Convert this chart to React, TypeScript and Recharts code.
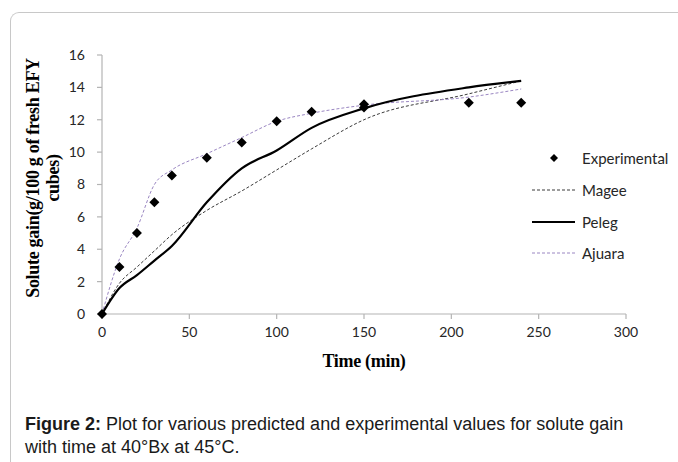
import React from 'react';
import { ComposedChart, Line, Scatter, XAxis, YAxis } from 'recharts';

// Time points (min) at which the models were evaluated
const modelTimes = [0, 10, 20, 30, 40, 60, 80, 100, 120, 150, 210, 240];
const mageeValues = [0, 1.9, 2.9, 3.9, 4.9, 6.4, 7.6, 8.9, 10.2, 12.0, 13.6, 14.4];
const pelegValues = [0, 1.6, 2.4, 3.3, 4.2, 6.9, 9.0, 10.1, 11.5, 12.7, 14.0, 14.4];
const ajuaraValues = [0, 3.4, 5.3, 8.0, 8.9, 9.9, 10.9, 11.9, 12.4, 12.9, 13.4, 13.9];

// Experimental observations
const expTimes = [0, 10, 20, 30, 40, 60, 80, 100, 120, 150, 150, 210, 240];
const expValues = [0, 2.9, 5.0, 6.9, 8.55, 9.65, 10.6, 11.9, 12.5, 12.95, 12.75, 13.05, 13.05];

const xTicks = [0, 50, 100, 150, 200, 250, 300];
const yTicks = [0, 2, 4, 6, 8, 10, 12, 14, 16];

const modelRows = modelTimes.map((t, i) => ({
  t,
  magee: mageeValues[i],
  peleg: pelegValues[i],
  ajuara: ajuaraValues[i],
}));
const expRows = expTimes.map((t, i) => ({ t, exp: expValues[i] }));

const AXIS_COLOR = '#b4b4b4';
const TICK_FONT = 'Lato, "Open Sans", sans-serif';
const MAGEE_COLOR = '#3a3a3a';
const PELEG_COLOR = '#000000';
const AJUARA_COLOR = '#9a86c2';

const Diamond = (props: any) => {
  const { cx, cy } = props;
  if (cx == null || cy == null) return null;
  const r = 5;
  return (
    <path d={`M${cx},${cy - r}L${cx + r},${cy}L${cx},${cy + r}L${cx - r},${cy}Z`} fill="#000" />
  );
};

const legendItems = [
  { name: 'Experimental', kind: 'diamond' },
  { name: 'Magee', kind: 'line', color: MAGEE_COLOR, dash: '3 2', w: 1 },
  { name: 'Peleg', kind: 'line', color: PELEG_COLOR, dash: undefined, w: 2.2 },
  { name: 'Ajuara', kind: 'line', color: AJUARA_COLOR, dash: '3 2', w: 1 },
];

export default function App() {
  return (
    <div
      style={{
        position: 'absolute',
        left: 0,
        top: 0,
        width: 678,
        height: 462,
        background: '#fff',
        overflow: 'hidden',
      }}
    >
      <div
        style={{
          position: 'absolute',
          left: 10,
          top: 12,
          width: 700,
          height: 480,
          borderTop: '1.5px solid #c8c8c8',
          borderLeft: '1.5px solid #c8c8c8',
          borderTopLeftRadius: 9,
          boxSizing: 'border-box',
        }}
      />
      <div style={{ position: 'absolute', left: 0, top: 0 }}>
        <ComposedChart
          width={678}
          height={462}
          data={modelRows}
          margin={{ top: 55, right: 52, bottom: 118, left: 62 }}
        >
          <XAxis
            type="number"
            dataKey="t"
            domain={[0, 300]}
            ticks={xTicks}
            interval={0}
            height={30}
            axisLine={{ stroke: AXIS_COLOR, strokeWidth: 1.2 }}
            tickLine={{ stroke: AXIS_COLOR, strokeWidth: 1.2 }}
            tickSize={5}
            tickMargin={8}
            tick={{ fill: '#262626', fontSize: 14, fontFamily: TICK_FONT }}
          />
          <YAxis
            type="number"
            domain={[0, 16]}
            ticks={yTicks}
            interval={0}
            width={40}
            axisLine={{ stroke: AXIS_COLOR, strokeWidth: 1.2 }}
            tickLine={{ stroke: AXIS_COLOR, strokeWidth: 1.2 }}
            tickSize={5}
            tickMargin={12}
            tick={{ fill: '#262626', fontSize: 14, fontFamily: TICK_FONT }}
          />
          <Line
            type="monotone"
            dataKey="magee"
            stroke={MAGEE_COLOR}
            strokeWidth={1}
            strokeDasharray="3 2"
            dot={false}
            activeDot={false}
            isAnimationActive={false}
          />
          <Line
            type="monotone"
            dataKey="ajuara"
            stroke={AJUARA_COLOR}
            strokeWidth={1}
            strokeDasharray="3 2"
            dot={false}
            activeDot={false}
            isAnimationActive={false}
          />
          <Line
            type="monotone"
            dataKey="peleg"
            stroke={PELEG_COLOR}
            strokeWidth={2.2}
            dot={false}
            activeDot={false}
            isAnimationActive={false}
          />
          <Scatter data={expRows} dataKey="exp" shape={Diamond} isAnimationActive={false} />
        </ComposedChart>
      </div>

      {/* Y axis title */}
      <div
        style={{
          position: 'absolute',
          left: 44 - 150,
          top: 178 - 21,
          width: 300,
          height: 42,
          transform: 'rotate(-90deg)',
          transformOrigin: '150px 21px',
          textAlign: 'center',
          fontFamily: '"Liberation Serif", "Times New Roman", serif',
          fontWeight: 'bold',
          fontSize: 18,
          lineHeight: '20px',
          color: '#000',
          letterSpacing: -0.3,
        }}
      >
        Solute gain(g/100 g of fresh EFY
        <br />
        cubes)
      </div>

      {/* X axis title */}
      <div
        style={{
          position: 'absolute',
          left: 264,
          width: 200,
          top: 350,
          textAlign: 'center',
          fontFamily: '"Liberation Serif", "Times New Roman", serif',
          fontWeight: 'bold',
          fontSize: 18,
          lineHeight: '22px',
          color: '#000',
          letterSpacing: -0.3,
        }}
      >
        Time (min)
      </div>

      {/* Legend */}
      {legendItems.map((it, i) => {
        const cy = [158, 190, 222, 253][i];
        return (
          <div key={it.name}>
            <svg
              style={{ position: 'absolute', left: 530, top: cy - 8 }}
              width={48}
              height={16}
            >
              {it.kind === 'diamond' ? (
                <path d="M24,4L28,8L24,12L20,8Z" fill="#000" />
              ) : (
                <line
                  x1={2}
                  x2={45}
                  y1={8}
                  y2={8}
                  stroke={it.color}
                  strokeWidth={it.w}
                  strokeDasharray={it.dash}
                />
              )}
            </svg>
            <div
              style={{
                position: 'absolute',
                left: 582,
                top: cy - 10,
                fontFamily: TICK_FONT,
                fontSize: 15,
                lineHeight: '20px',
                color: '#262626',
              }}
            >
              {it.name}
            </div>
          </div>
        );
      })}

      {/* Caption */}
      <div
        style={{
          position: 'absolute',
          left: 25,
          top: 413,
          width: 650,
          fontFamily: '"Liberation Sans", Arial, sans-serif',
          fontSize: 18,
          lineHeight: '23px',
          color: '#1a1a1a',
        }}
      >
        <b>Figure 2:</b> Plot for various predicted and experimental values for solute gain
        <br />
        with time at 40°Bx at 45°C.
      </div>
    </div>
  );
}
